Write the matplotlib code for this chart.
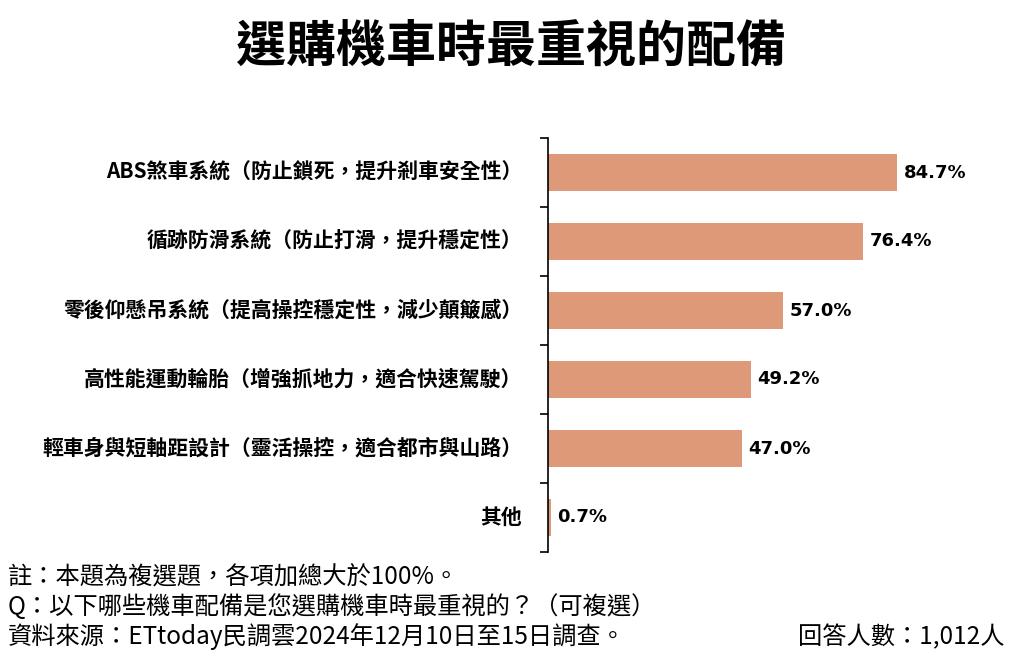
import matplotlib.pyplot as plt

plt.rcParams['font.family'] = ['Noto Sans CJK TC', 'DejaVu Sans']

categories = [
    'ABS煞車系統（防止鎖死，提升剎車安全性）',
    '循跡防滑系統（防止打滑，提升穩定性）',
    '零後仰懸吊系統（提高操控穩定性，減少顛簸感）',
    '高性能運動輪胎（增強抓地力，適合快速駕駛）',
    '輕車身與短軸距設計（靈活操控，適合都市與山路）',
    '其他',
]
values = [84.7, 76.4, 57.0, 49.2, 47.0, 0.7]
value_labels = ['84.7%', '76.4%', '57.0%', '49.2%', '47.0%', '0.7%']

title = '選購機車時最重視的配備'
note1 = '註：本題為複選題，各項加總大於100%。'
note2 = 'Q：以下哪些機車配備是您選購機車時最重視的？（可複選）'
note3 = '資料來源：ETtoday民調雲2024年12月10日至15日調查。'
note4 = '回答人數：1,012人'

bar_color = '#DE9A78'

fig = plt.figure(figsize=(10.2, 6.57), dpi=100)
ax = fig.add_axes([548 / 1020, 1 - 552 / 657, 412 / 1020, 414 / 657])

ypos = list(range(len(categories)))
ax.barh(ypos, values, height=0.55, color=bar_color)
ax.set_xlim(0, 100)
ax.set_ylim(len(categories) - 0.5, -0.5)

for y, v, lab in zip(ypos, values, value_labels):
    ax.text(v + 1.6, y, lab, va='center', ha='left', fontsize=13,
            fontweight='bold', family=['DejaVu Sans'])

# category labels
for y, lab in zip(ypos, categories):
    ax.text(-6.2, y, lab, va='center', ha='right', fontsize=15,
            fontweight='bold')

ax.set_yticks([i - 0.5 for i in range(len(categories) + 1)])
ax.set_yticklabels([])
ax.tick_params(axis='y', length=6, width=1.2, direction='out')
ax.set_xticks([])
for s in ['top', 'right', 'bottom']:
    ax.spines[s].set_visible(False)
ax.spines['left'].set_linewidth(1.2)

fig.text(0.501, 0.928, title, ha='center', va='center', fontsize=36,
         fontweight='black')

fig.text(8 / 1020, 1 - 577 / 657, note1, ha='left', va='center', fontsize=17.5)
fig.text(8 / 1020, 1 - 607 / 657, note2, ha='left', va='center', fontsize=17.5)
fig.text(8 / 1020, 1 - 637 / 657, note3, ha='left', va='center', fontsize=17.5)
fig.text(1005 / 1020, 1 - 637 / 657, note4, ha='right', va='center', fontsize=17.5)

fig.savefig('out.png', dpi=100)
